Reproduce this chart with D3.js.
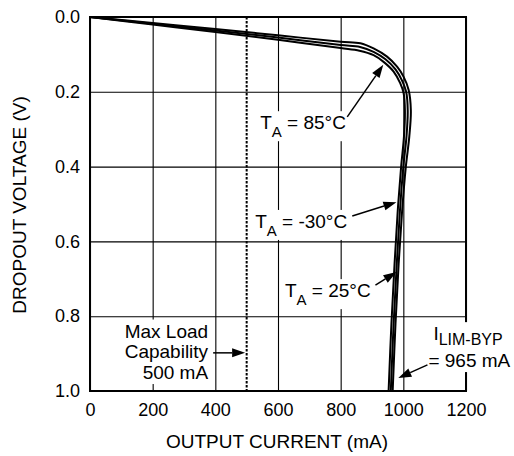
<!DOCTYPE html>
<html>
<head>
<meta charset="utf-8">
<script src="https://cdn.jsdelivr.net/npm/d3@7"></script>
<style>
  body { margin: 0; background: #fff; }
  text { font-family: 'Liberation Sans', Arial, Helvetica, sans-serif; fill: #000; }
</style>
</head>
<body>
<svg id="chart" width="514" height="456"></svg>
<script>
// ticks
var xTicks = [0, 200, 400, 600, 800, 1000, 1200];
var yTicks = [0.0, 0.2, 0.4, 0.6, 0.8, 1.0];

// dropout curves, [current mA, dropout V]
var curveCold = [[0, 0], [200, 0.016], [400, 0.032], [600, 0.049], [800, 0.066], [863, 0.070], [905, 0.084],
  [948, 0.106], [980, 0.133], [1001, 0.160], [1017, 0.195], [1024, 0.25], [1019, 0.32], [1008, 0.40],
  [996, 0.52], [985, 0.66], [975, 0.82], [966, 1.0]];
var curveRoom = [[0, 0], [200, 0.018], [400, 0.036], [600, 0.055], [800, 0.075], [862, 0.080], [905, 0.093],
  [943, 0.113], [975, 0.140], [996, 0.170], [1009, 0.200], [1014, 0.25], [1010, 0.32], [1000, 0.40],
  [989, 0.52], [979, 0.66], [969, 0.82], [960, 1.0]];
var curveHot = [[0, 0], [200, 0.020], [400, 0.040], [600, 0.061], [800, 0.083], [860, 0.090], [905, 0.102],
  [937, 0.120], [969, 0.146], [990, 0.177], [1001, 0.204], [1005, 0.25], [1002, 0.32], [993, 0.40],
  [982, 0.52], [972, 0.66], [962, 0.82], [953, 1.0]];

var maxLoad = 500;

var svg = d3.select('#chart');

var x = d3.scaleLinear().domain([0, 1200]).range([90, 466]);
var y = d3.scaleLinear().domain([0, 1]).range([17, 391]);

// grid + tick labels

var xAxis = svg.append('g')
  .attr('transform', 'translate(0,391)')
  .call(d3.axisBottom(x).tickValues(xTicks).tickSize(-374).tickPadding(12).tickFormat(d3.format('d')));
var yAxis = svg.append('g')
  .attr('transform', 'translate(90,0)')
  .call(d3.axisLeft(y).tickValues(yTicks).tickSize(-376).tickPadding(10).tickFormat(d3.format('.1f')));

[xAxis, yAxis].forEach(function(a) {
  a.select('.domain').remove();
  a.selectAll('line').attr('stroke', '#000').attr('stroke-width', 1.1);
  a.selectAll('text').style('font-size', '18px').attr('fill', '#000');
});

// max load dotted line

svg.append('line')
  .attr('x1', x(maxLoad)).attr('x2', x(maxLoad))
  .attr('y1', y(0)).attr('y2', y(1))
  .attr('stroke', '#000').attr('stroke-width', 2)
  .attr('stroke-dasharray', '2.5,1.5');

// plot border

svg.append('rect')
  .attr('x', x(0)).attr('y', y(0))
  .attr('width', x(1200) - x(0)).attr('height', y(1) - y(0))
  .attr('fill', 'none').attr('stroke', '#000').attr('stroke-width', 2);

// axis titles

svg.append('text')
  .attr('x', 277).attr('y', 448)
  .attr('text-anchor', 'middle')
  .style('font-size', '19px')
  .text('OUTPUT CURRENT (mA)');

svg.append('text')
  .attr('transform', 'translate(26,205) rotate(-90)')
  .attr('text-anchor', 'middle')
  .style('font-size', '19px')
  .text('DROPOUT VOLTAGE (V)');

// labels with white background, they break the grid

function addLabel(build) {
  var g = svg.append('g');
  var rect = g.append('rect').attr('fill', '#fff');
  var t = g.append('text').style('font-size', '19px');
  build(t);
  var b = t.node().getBBox();
  rect.attr('x', b.x - 2).attr('y', b.y - 1).attr('width', b.width + 4).attr('height', b.height + 2);
}

function tempLabel(mA, v, txt) {
  addLabel(function(t) {
    t.attr('x', x(mA)).attr('y', y(v));
    t.append('tspan').text('T');
    t.append('tspan').attr('dy', 8).style('font-size', '15px').text('A');
    t.append('tspan').attr('dy', -8).text(' = ' + txt);
  });
}

tempLabel(543, 0.300, '85°C');
tempLabel(527, 0.564, '-30°C');
tempLabel(622, 0.749, '25°C');

addLabel(function(t) {
  t.attr('text-anchor', 'end');
  t.append('tspan').attr('x', x(377)).attr('y', y(0.857)).text('Max Load');
  t.append('tspan').attr('x', x(377)).attr('y', y(0.913)).text('Capability');
  t.append('tspan').attr('x', x(377)).attr('y', y(0.968)).text('500 mA');
});

addLabel(function(t) {
  t.append('tspan').attr('x', x(1096)).attr('y', y(0.864)).text('I');
  t.append('tspan').attr('dy', 5).style('font-size', '16px').text('LIM-BYP');
  t.append('tspan').attr('x', x(1080)).attr('y', y(0.936)).text('= 965 mA');
});

// curves

var line = d3.line()
  .x(function(d) { return x(d[0]); })
  .y(function(d) { return y(d[1]); })
  .curve(d3.curveCatmullRom.alpha(0.5));

[curveCold, curveRoom, curveHot].forEach(function(c) {
  svg.append('path')
    .datum(c)
    .attr('d', line)
    .attr('fill', 'none')
    .attr('stroke', '#000')
    .attr('stroke-width', 2);
});

// arrows

var arrows = [
  [[821, 0.267], [936, 0.128]],
  [[837, 0.532], [978, 0.495]],
  [[911, 0.717], [978, 0.682]],
  [[393, 0.898], [495, 0.898]],
  [[1077, 0.930], [984, 0.965]]
];

arrows.forEach(function(a) {
  var x1 = x(a[0][0]), y1 = y(a[0][1]);
  var x2 = x(a[1][0]), y2 = y(a[1][1]);
  var ang = Math.atan2(y2 - y1, x2 - x1);
  var len = 13, hw = 4.5;
  var bx = x2 - len * Math.cos(ang), by = y2 - len * Math.sin(ang);
  svg.append('line')
    .attr('x1', x1).attr('y1', y1).attr('x2', bx).attr('y2', by)
    .attr('stroke', '#000').attr('stroke-width', 1.5);
  var pts = [
    [x2, y2],
    [bx + hw * Math.sin(ang), by - hw * Math.cos(ang)],
    [bx - hw * Math.sin(ang), by + hw * Math.cos(ang)]
  ];
  svg.append('polygon')
    .attr('points', pts.map(function(p) { return p.join(','); }).join(' '))
    .attr('fill', '#000');
});
</script>
</body>
</html>
